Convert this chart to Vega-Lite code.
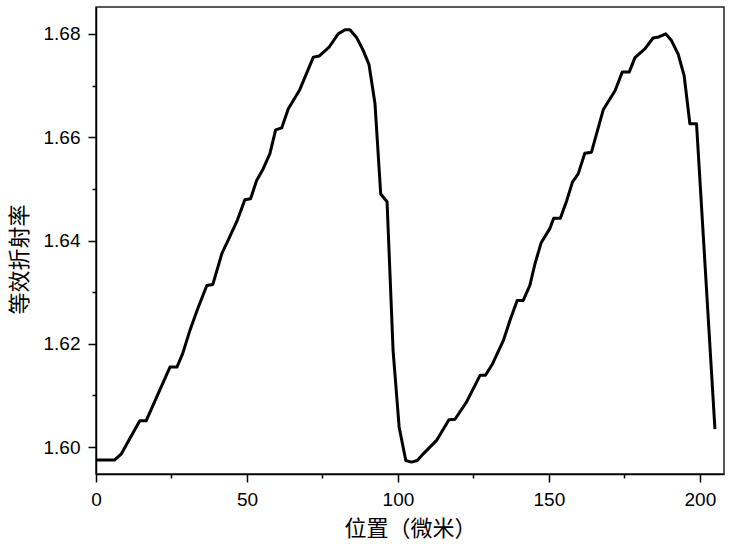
{
  "$schema": "https://vega.github.io/schema/vega-lite/v6.json",
  "autosize": {"type": "none"},
  "width": 628,
  "height": 467,
  "padding": {"left": 96, "top": 7, "right": 8, "bottom": 70},
  "background": "white",
  "config": {
    "view": {"stroke": "#222222", "strokeWidth": 1.5},
    "axis": {
      "domainColor": "black",
      "domainWidth": 1.5,
      "tickColor": "black",
      "tickWidth": 1.5,
      "grid": false,
      "labelFont": "Liberation Sans",
      "labelFontSize": 19,
      "labelColor": "black",
      "titleFont": "Noto Sans CJK SC",
      "titleFontWeight": "normal",
      "titleFontSize": 22,
      "titleColor": "black"
    }
  },
  "data": {
    "values": [
      {"x": 0, "n": 1.5975},
      {"x": 6.1, "n": 1.5975},
      {"x": 8.4, "n": 1.5987},
      {"x": 14.5, "n": 1.6051},
      {"x": 16.6, "n": 1.6051},
      {"x": 24.5, "n": 1.6155},
      {"x": 26.8, "n": 1.6155},
      {"x": 28.7, "n": 1.6181},
      {"x": 31.1, "n": 1.6226},
      {"x": 33.5, "n": 1.6265},
      {"x": 36.7, "n": 1.6313},
      {"x": 38.7, "n": 1.6315},
      {"x": 41.7, "n": 1.6375},
      {"x": 43.9, "n": 1.6402},
      {"x": 46.8, "n": 1.6439},
      {"x": 49.3, "n": 1.6479},
      {"x": 51.2, "n": 1.6481},
      {"x": 53.2, "n": 1.6516},
      {"x": 55.4, "n": 1.6539},
      {"x": 57.6, "n": 1.6568},
      {"x": 59.5, "n": 1.6614},
      {"x": 61.5, "n": 1.6618},
      {"x": 63.7, "n": 1.6655},
      {"x": 67.5, "n": 1.6692},
      {"x": 69.7, "n": 1.6723},
      {"x": 72.0, "n": 1.6755},
      {"x": 73.9, "n": 1.6757},
      {"x": 77.3, "n": 1.6775},
      {"x": 80.2, "n": 1.68},
      {"x": 82.5, "n": 1.6808},
      {"x": 84.1, "n": 1.6808},
      {"x": 86.3, "n": 1.6793},
      {"x": 88.5, "n": 1.6768},
      {"x": 90.4, "n": 1.6741},
      {"x": 92.4, "n": 1.6665},
      {"x": 94.3, "n": 1.649},
      {"x": 96.4, "n": 1.6475},
      {"x": 98.4, "n": 1.6187},
      {"x": 100.4, "n": 1.6039},
      {"x": 102.6, "n": 1.5974},
      {"x": 104.5, "n": 1.5971},
      {"x": 106.4, "n": 1.5974},
      {"x": 108.4, "n": 1.5987},
      {"x": 112.8, "n": 1.6013},
      {"x": 116.9, "n": 1.6053},
      {"x": 118.9, "n": 1.6054},
      {"x": 122.7, "n": 1.6087},
      {"x": 127.2, "n": 1.6139},
      {"x": 129.0, "n": 1.6139},
      {"x": 131.4, "n": 1.6162},
      {"x": 134.9, "n": 1.6206},
      {"x": 137.1, "n": 1.6245},
      {"x": 139.5, "n": 1.6284},
      {"x": 141.5, "n": 1.6284},
      {"x": 143.7, "n": 1.6313},
      {"x": 145.4, "n": 1.6355},
      {"x": 147.4, "n": 1.6395},
      {"x": 150.3, "n": 1.6423},
      {"x": 151.6, "n": 1.6443},
      {"x": 153.8, "n": 1.6443},
      {"x": 155.9, "n": 1.6477},
      {"x": 157.8, "n": 1.6513},
      {"x": 159.7, "n": 1.6529},
      {"x": 161.9, "n": 1.6569},
      {"x": 164.1, "n": 1.6571},
      {"x": 168.0, "n": 1.6653},
      {"x": 171.9, "n": 1.669},
      {"x": 174.3, "n": 1.6726},
      {"x": 176.6, "n": 1.6726},
      {"x": 178.5, "n": 1.6754},
      {"x": 181.8, "n": 1.6771},
      {"x": 184.5, "n": 1.6792},
      {"x": 186.4, "n": 1.6794},
      {"x": 188.7, "n": 1.68},
      {"x": 190.6, "n": 1.6787},
      {"x": 192.8, "n": 1.6761},
      {"x": 194.8, "n": 1.6719},
      {"x": 196.7, "n": 1.6626},
      {"x": 198.9, "n": 1.6626},
      {"x": 205.0, "n": 1.6035}
    ]
  },
  "mark": {"type": "line", "color": "black", "strokeWidth": 3, "strokeJoin": "round", "strokeCap": "butt", "clip": true},
  "encoding": {
    "x": {
      "field": "x",
      "type": "quantitative",
      "scale": {"domain": [0, 208], "nice": false, "zero": false},
      "axis": {
        "title": "位置（微米）",
        "values": [0, 25, 50, 75, 100, 125, 150, 175, 200],
        "labelExpr": "datum.value % 50 === 0 ? datum.label : ''",
        "tickSize": {"condition": {"test": "datum.value % 50 !== 0", "value": 4}, "value": 8},
        "labelPadding": 8,
        "labelFlush": false,
        "titlePadding": 9
      }
    },
    "y": {
      "field": "n",
      "type": "quantitative",
      "scale": {"domain": [1.5948, 1.6852], "nice": false, "zero": false},
      "axis": {
        "title": "等效折射率",
        "values": [1.6, 1.61, 1.62, 1.63, 1.64, 1.65, 1.66, 1.67, 1.68],
        "format": ".2f",
        "labelExpr": "round(datum.value * 100) % 2 === 0 ? datum.label : ''",
        "tickSize": {"condition": {"test": "round(datum.value * 100) % 2 !== 0", "value": 4}, "value": 8},
        "labelPadding": 8,
        "labelFlush": false,
        "titleX": -77,
        "titleY": 252,
        "titleBaseline": "middle",
        "titleAlign": "center",
        "titleAngle": -90
      }
    }
  }
}
